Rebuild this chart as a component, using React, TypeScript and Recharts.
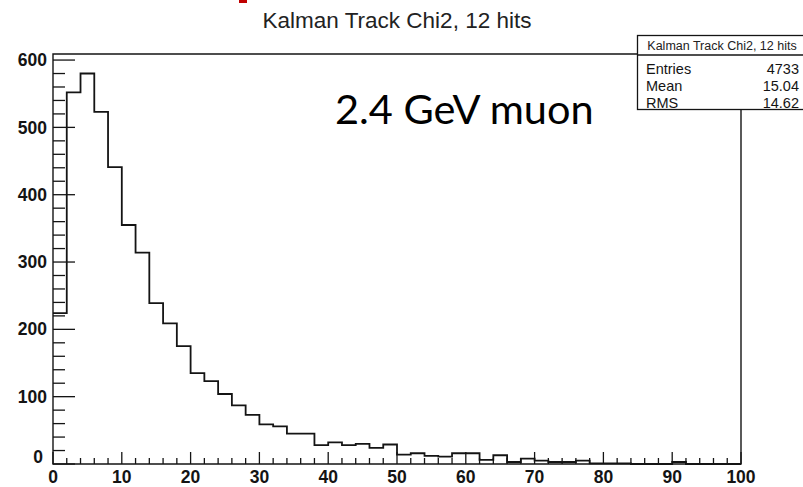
import { LineChart, Line, XAxis, YAxis, ReferenceArea } from "recharts";

const TITLE = "Kalman Track Chi2, 12 hits";
const NOTE = "2.4 GeV muon";
const BIN_WIDTH = 2;
// counts per 2-unit bin, 0..100
const COUNTS = [
  224, 552, 580, 523, 441, 355, 314, 239, 209, 175,
  135, 123, 104, 87, 73, 59, 56, 45, 45, 28,
  32, 28, 30, 24, 29, 14, 16, 12, 11, 16,
  16, 6, 13, 3, 8, 5, 3, 3, 5, 1,
  1, 1, 0, 0, 0, 3, 0, 0, 0, 0,
];
const X_LABELS = [0, 10, 20, 30, 40, 50, 60, 70, 80, 90, 100];
const Y_LABELS = [0, 100, 200, 300, 400, 500, 600];
const X_MINOR = 2;
const Y_MINOR = 20;
const STATS = [
  ["Entries", "4733"],
  ["Mean", "15.04"],
  ["RMS", "14.62"],
];

const W = 803;
const H = 487;
const INK = "#141414";
const FONT = "'Liberation Sans', Arial, sans-serif";

const X_MAX = X_LABELS[X_LABELS.length - 1];
const Y_MAX = Math.max(...COUNTS) * 1.05;

const data = COUNTS.map((c, i) => ({ x: i * BIN_WIDTH, count: c })).concat([
  { x: COUNTS.length * BIN_WIDTH, count: COUNTS[COUNTS.length - 1] },
]);

const xTicks: number[] = [];
for (let v = 0; v <= X_MAX; v += X_MINOR) xTicks.push(v);
const yTicks: number[] = [];
for (let v = 0; v <= Y_LABELS[Y_LABELS.length - 1]; v += Y_MINOR) yTicks.push(v);

function XTick(props: any) {
  const { x, y, payload } = props;
  const v = payload.value;
  const major = X_LABELS.includes(v);
  return (
    <g>
      <line x1={x} y1={y} x2={x} y2={y - (major ? 12 : 6)} stroke={INK} strokeWidth={1.3} />
      {major && (
        <text x={x} y={y + 19} textAnchor="middle" fontFamily={FONT} fontWeight="bold" fontSize={17.5} fill={INK}>
          {v}
        </text>
      )}
    </g>
  );
}

function YTick(props: any) {
  const { x, y, payload } = props;
  const v = payload.value;
  const major = Y_LABELS.includes(v);
  return (
    <g>
      <line x1={x} y1={y} x2={x + (major ? 22 : 12)} y2={y} stroke={INK} strokeWidth={1.3} />
      {major && (
        <text
          x={v === 0 ? x - 10 : x - 6}
          y={v === 0 ? y - 7 : y}
          dy="0.35em"
          textAnchor="end"
          fontFamily={FONT}
          fontWeight="bold"
          fontSize={17.5}
          fill={INK}
        >
          {v}
        </text>
      )}
    </g>
  );
}

const STAT_Y = [74, 91, 108];

export default function App() {
  return (
    <div style={{ position: "absolute", left: 0, top: 0, width: W, height: H, overflow: "hidden", background: "#fff" }}>
      <LineChart width={W} height={H} data={data} margin={{ top: 54, right: 62, bottom: 0, left: 0 }}>
        <XAxis
          dataKey="x"
          type="number"
          domain={[0, X_MAX]}
          ticks={xTicks}
          interval={0}
          height={23}
          axisLine={false}
          tickLine={false}
          tickSize={0}
          tickMargin={0}
          tick={<XTick />}
        />
        <YAxis
          type="number"
          domain={[0, Y_MAX]}
          ticks={yTicks}
          interval={0}
          width={53}
          axisLine={false}
          tickLine={false}
          tickSize={0}
          tickMargin={0}
          tick={<YTick />}
        />
        <ReferenceArea x1={0} x2={X_MAX} y1={0} y2={Y_MAX} fill="none" stroke={INK} strokeWidth={1.4} />
        <Line
          dataKey="count"
          type="stepAfter"
          stroke={INK}
          strokeWidth={1.8}
          dot={false}
          isAnimationActive={false}
        />
      </LineChart>
      <svg width={W} height={H} style={{ position: "absolute", left: 0, top: 0, pointerEvents: "none" }}>
        <rect x={239} y={0} width={8} height={3} fill="#c00000" />
        <text x={397} y={28} textAnchor="middle" fontFamily={FONT} fontSize={22.5} fill="#222">
          {TITLE}
        </text>
        <text x={335} y={124} fontFamily="Lato, 'Open Sans', sans-serif" fontSize={41.5} fill="#000">
          {NOTE}
        </text>
        <g>
          <rect x={637.5} y={35.5} width={170} height={74} fill="#fff" stroke={INK} strokeWidth={1.3} />
          <line x1={637.5} y1={55} x2={W} y2={55} stroke={INK} strokeWidth={1.3} />
          <text x={722} y={50} textAnchor="middle" fontFamily={FONT} fontSize={12.5} fill="#222">
            {TITLE}
          </text>
          {STATS.map(([k, v], i) => (
            <g key={k}>
              <text x={646} y={STAT_Y[i]} fontFamily={FONT} fontSize={14.5} fill={INK}>
                {k}
              </text>
              <text x={799} y={STAT_Y[i]} textAnchor="end" fontFamily={FONT} fontSize={14.5} fill={INK}>
                {v}
              </text>
            </g>
          ))}
        </g>
      </svg>
    </div>
  );
}
